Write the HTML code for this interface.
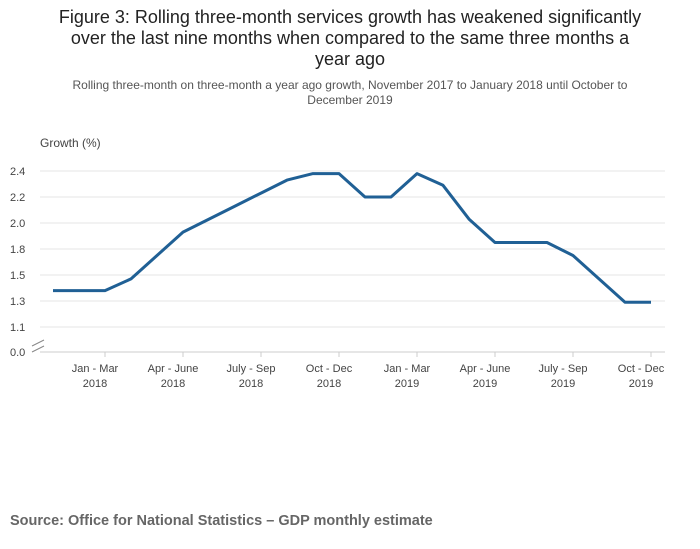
<!DOCTYPE html>
<html><head><meta charset="utf-8"><style>
body{margin:0;background:#fff;font-family:"Liberation Sans",sans-serif;}
#wrap{position:relative;width:700px;height:549px;overflow:hidden;}
.t{position:absolute;left:0;width:700px;text-align:center;}
</style></head><body>
<div id="wrap">
<div class="t" style="top:7px;font-size:18px;line-height:21px;color:#222;">Figure 3: Rolling three-month services growth has weakened significantly<br>over the last nine months when compared to the same three months a<br>year ago</div>
<div class="t" style="top:78px;font-size:12px;line-height:15px;color:#555;">Rolling three-month on three-month a year ago growth, November 2017 to January 2018 until October to<br>December 2019</div>
<div style="position:absolute;left:10px;top:513px;font-size:14.5px;font-weight:bold;color:#666;">Source: Office for National Statistics – GDP monthly estimate</div>
<svg id="c" width="700" height="549" style="position:absolute;left:0;top:0"></svg>
</div>
<script>
const categories=["Nov-Jan 2018","Dec-Feb 2018","Jan-Mar 2018","Feb-Apr 2018","Mar-May 2018","Apr-Jun 2018","May-Jul 2018","Jun-Aug 2018","Jul-Sep 2018","Aug-Oct 2018","Sep-Nov 2018","Oct-Dec 2018","Nov-Jan 2019","Dec-Feb 2019","Jan-Mar 2019","Feb-Apr 2019","Mar-May 2019","Apr-Jun 2019","May-Jul 2019","Jun-Aug 2019","Jul-Sep 2019","Aug-Oct 2019","Sep-Nov 2019","Oct-Dec 2019"];
const growth=[1.48,1.48,1.48,1.57,1.75,1.93,2.03,2.13,2.23,2.33,2.38,2.38,2.2,2.2,2.38,2.29,2.03,1.85,1.85,1.85,1.75,1.57,1.39,1.39];
const tickValues=[2.4,2.2,2.0,1.8,1.6,1.4,1.2];
const tickLabels=["2.4","2.2","2.0","1.8","1.5","1.3","1.1"];
const xLabelIdx=[2,5,8,11,14,17,20,23];
const xLabels=[["Jan - Mar","2018"],["Apr - June","2018"],["July - Sep","2018"],["Oct - Dec","2018"],["Jan - Mar","2019"],["Apr - June","2019"],["July - Sep","2019"],["Oct - Dec","2019"]];
const svg=document.getElementById('c');const NS="http://www.w3.org/2000/svg";
function mk(t,a,p){const e=document.createElementNS(NS,t);for(const k in a)e.setAttribute(k,a[k]);(p||svg).appendChild(e);return e;}
const x=i=>53+i*26;
const y=v=>171+(2.4-v)*130;
let g;
tickValues.forEach((v,i)=>{
 g=mk('line',{x1:40,x2:665,y1:y(v),y2:y(v),stroke:'#e4e4e4'});
 
 
 g=mk('text',{x:10,y:y(v)+4,'font-size':11,fill:'#444'});g.textContent=tickLabels[i];
 
 
});
g=mk('text',{x:10,y:356,'font-size':11,fill:'#444'});g.textContent='0.0';


g=mk('line',{x1:40,x2:665,y1:352,y2:352,stroke:'#ccc'});


g=mk('path',{d:'M32,346 L44,340 M32,352 L44,346',stroke:'#888',fill:'none'});


g=mk('text',{x:40,y:147,'font-size':12,fill:'#444'});g.textContent='Growth (%)';


xLabelIdx.forEach((idx,i)=>{
 g=mk('line',{x1:x(idx),x2:x(idx),y1:352,y2:357,stroke:'#ccc'});
 
 
 g=mk('text',{x:x(idx)-10,y:372,'font-size':11,fill:'#444','text-anchor':'middle'});
 
 
 const a=mk('tspan',{x:x(idx)-10},g);a.textContent=xLabels[i][0];
 const b=mk('tspan',{x:x(idx)-10,dy:15},g);b.textContent=xLabels[i][1];
});
g=mk('polyline',{points:growth.map((v,i)=>x(i)+','+y(v)).join(' '),fill:'none',stroke:'#206095',
 'stroke-width':3,'stroke-linejoin':'round'});


</script>
</body></html>
